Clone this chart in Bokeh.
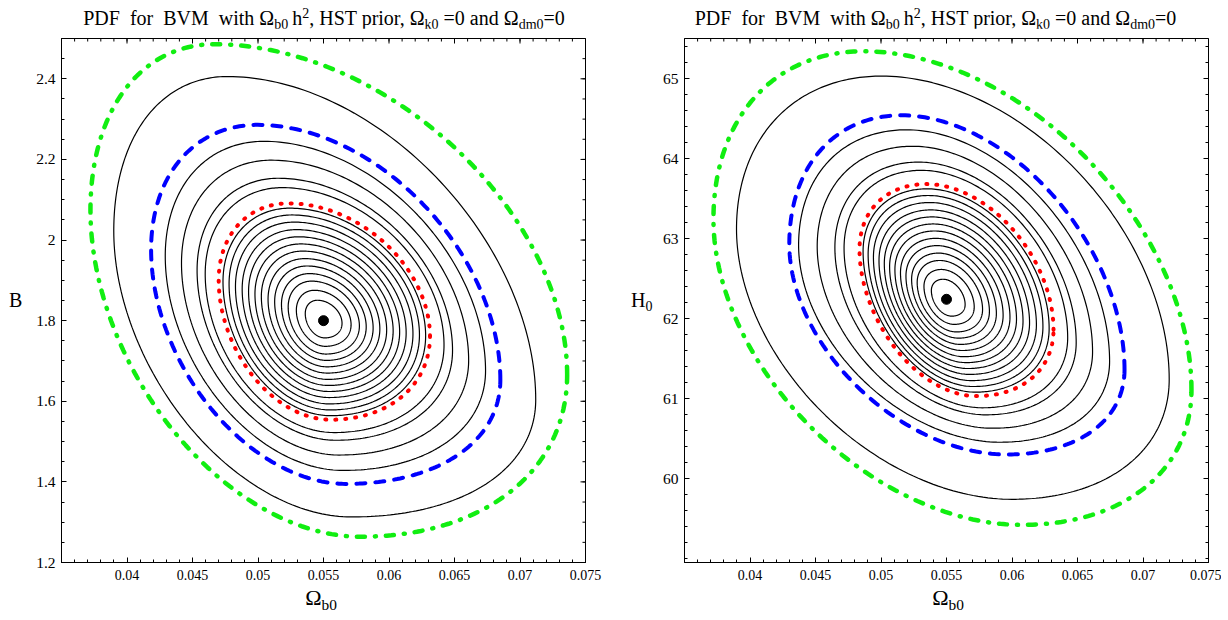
import numpy as np
from bokeh.plotting import figure
from bokeh.layouts import row, column
from bokeh.models import Div, LinearAxis, FixedTicker, CustomJSTickFormatter, Range1d
from bokeh.embed import file_html
from bokeh.resources import INLINE

# ---------------- data ----------------
X_RANGE = (0.035, 0.075)
LEFT_Y_RANGE = (1.2, 2.5)
RIGHT_Y_RANGE = (58.95, 65.5)
X_TICKS = [0.04, 0.045, 0.05, 0.055, 0.06, 0.065, 0.07, 0.075]
LEFT_Y_TICKS = [1.2, 1.4, 1.6, 1.8, 2.0, 2.2, 2.4]
RIGHT_Y_TICKS = [60, 61, 62, 63, 64, 65]

LEFT_BEST = (0.0550, 1.800)
RIGHT_BEST = (0.0550, 62.24)

# contour extreme points: (x_left, y_left, x_right, y_right, x_top, y_top, x_bottom, y_bottom)
LEFT_RED = (0.04700, 1.901, 0.06313, 1.761, 0.05232, 2.091, 0.05556, 1.5542)
LEFT_BLACK_OUT = [
    (0.04597, 1.916, 0.06420, 1.7394, 0.05185, 2.1300, 0.05579, 1.5224),
    (0.04535, 1.925, 0.06485, 1.7264, 0.05157, 2.1533, 0.05592, 1.5033),
    (0.04416, 1.9423, 0.06608, 1.7016, 0.05103, 2.1981, 0.05619, 1.4666),
    (0.04292, 1.9603, 0.06737, 1.6757, 0.05046, 2.2449, 0.05646, 1.4284),
    (0.03899, 2.0227, 0.0712, 1.604, 0.04768, 2.4057, 0.0571, 1.313),
]
LEFT_BLUE = (0.04184, 1.976, 0.0685, 1.653, 0.04997, 2.2858, 0.0567, 1.395)
LEFT_GREEN = (0.03721, 2.074, 0.0736, 1.666, 0.04666, 2.4858, 0.0578, 1.264)

RIGHT_RED = (0.04836, 62.865, 0.06317, 61.86, 0.05347, 63.68, 0.05729, 61.03)
RIGHT_BLACK_OUT = [
    (0.04718, 62.878, 0.06425, 61.76, 0.05309, 63.852, 0.05775, 60.884),
    (0.04648, 62.886, 0.06490, 61.70, 0.05286, 63.955, 0.05802, 60.796),
    (0.04513, 62.901, 0.06615, 61.585, 0.05242, 64.153, 0.05855, 60.6285),
    (0.04371, 62.916, 0.06745, 61.465, 0.05196, 64.359, 0.05910, 60.4533),
    (0.03897, 63.12, 0.07200, 61.24, 0.05004, 65.03, 0.0600, 59.74),
]
RIGHT_BLUE = (0.04300, 62.93, 0.06859, 61.36, 0.05156, 64.54, 0.05958, 60.30)
RIGHT_GREEN = (0.03721, 63.24, 0.0737, 61.11, 0.04866, 65.34, 0.06073, 59.42)

# sizes of the black rings inside the red contour (fraction of the red contour, read on the picture)
LEFT_RING_SCALE = [0.174, 0.259, 0.337, 0.401, 0.466, 0.529, 0.593, 0.654, 0.715, 0.776, 0.840, 0.901, 0.959]
RIGHT_RING_SCALE = [0.174, 0.259, 0.337, 0.401, 0.466, 0.529, 0.593, 0.654, 0.715, 0.776, 0.840, 0.901, 0.959]

TITLE_HTML = ("PDF&nbsp; for&nbsp; BVM&nbsp; with &Omega;<sub>b0</sub>&thinsp;h<sup>2</sup>, HST prior, "
              "&Omega;<sub>k0</sub> =0 and &Omega;<sub>dm0</sub>=0")
XLABEL_HTML = "&Omega;<sub>b0</sub>"
LEFT_YLABEL_HTML = "B"
RIGHT_YLABEL_HTML = "H<sub>0</sub>"

FONT = "Liberation Serif"


def egg(c8, n=80):
    xl, yl, xr, yr, xt, yt, xb, yb = c8
    c = 0.5 * ((xt - xb) / (xr - xl) + (yr - yl) / (yt - yb))
    phi = np.arccos(c)
    xs, ys = [], []
    A = (xr - xt) / (1 - c); B = (yt - yr) / (1 - c); cx = xr - A; cy = yt - B
    t = np.linspace(0, phi, n); xs.append(cx + A * np.cos(t)); ys.append(cy + B * np.cos(t - phi))
    A = (xt - xl) / (1 + c); B = (yt - yl) / (1 + c); cx = xl + A; cy = yt - B
    t = np.linspace(phi, np.pi, n)[1:]; xs.append(cx + A * np.cos(t)); ys.append(cy + B * np.cos(t - phi))
    A = (xb - xl) / (1 - c); B = (yl - yb) / (1 - c); cx = xl + A; cy = yb + B
    t = np.linspace(np.pi, np.pi + phi, n)[1:]; xs.append(cx + A * np.cos(t)); ys.append(cy + B * np.cos(t - phi))
    A = (xr - xb) / (1 + c); B = (yr - yb) / (1 + c); cx = xr - A; cy = yb + B
    t = np.linspace(np.pi + phi, 2 * np.pi, n)[1:]; xs.append(cx + A * np.cos(t)); ys.append(cy + B * np.cos(t - phi))
    return np.concatenate(xs), np.concatenate(ys)


def scaled(best, red, s):
    bx, by = best
    return tuple((bx if i % 2 == 0 else by) + s * (v - (bx if i % 2 == 0 else by)) for i, v in enumerate(red))


def style_axis(ax, size, standoff):
    ax.major_tick_in = 5; ax.major_tick_out = 0; ax.minor_tick_in = 3; ax.minor_tick_out = 0
    ax.axis_line_color = "black"; ax.major_tick_line_color = "black"; ax.minor_tick_line_color = "black"
    ax.major_label_text_font = FONT
    ax.major_label_text_color = "black"
    ax.major_label_text_font_size = size
    ax.major_label_standoff = standoff


def make_panel(yr, yticks, yminor, best, ring_scale, red, black_out, blue, green, bl, br):
    p = figure(frame_width=524, frame_height=524, x_range=Range1d(*X_RANGE), y_range=Range1d(*yr),
               output_backend="svg", toolbar_location=None, min_border_left=bl, min_border_right=br,
               min_border_top=10, min_border_bottom=25, x_axis_location=None, y_axis_location=None)
    p.grid.visible = False
    p.outline_line_color = "black"
    p.outline_line_width = 1
    p.background_fill_color = "white"
    p.border_fill_color = "white"
    fmt = CustomJSTickFormatter(code="return String(Math.round(tick*10000)/10000);")
    xminor = list(np.round(np.arange(0.035, 0.0751, 0.001), 4))
    ax = LinearAxis(ticker=FixedTicker(ticks=X_TICKS, minor_ticks=xminor), formatter=fmt)
    style_axis(ax, "14px", 7)
    p.add_layout(ax, "below")
    ay = LinearAxis(ticker=FixedTicker(ticks=yticks, minor_ticks=yminor), formatter=fmt)
    style_axis(ay, "15.5px", 6)
    p.add_layout(ay, "left")
    # mirrored ticks on the top and right frame edges
    y_top, x_right = yr[1], X_RANGE[1]
    p.scatter(X_TICKS, [y_top] * len(X_TICKS), marker="dash", size=10, angle=np.pi / 2,
              line_color="black", line_width=1)
    p.scatter(xminor, [y_top] * len(xminor), marker="dash", size=6, angle=np.pi / 2,
              line_color="black", line_width=1)
    p.scatter([x_right] * len(yticks), yticks, marker="dash", size=10, line_color="black", line_width=1)
    p.scatter([x_right] * len(yminor), yminor, marker="dash", size=6, line_color="black", line_width=1)

    for s in ring_scale:
        xs, ys = egg(scaled(best, red, s))
        p.line(xs, ys, line_color="black", line_width=1.2)
    for c8 in black_out:
        xs, ys = egg(c8)
        p.line(xs, ys, line_color="black", line_width=1.2)
    xs, ys = egg(red)
    p.line(xs, ys, line_color="#ff0000", line_width=4, line_dash="1 9", line_cap="round")
    xs, ys = egg(blue)
    p.line(xs, ys, line_color="#0000ff", line_width=4, line_dash="9 10", line_cap="round")
    xs, ys = egg(green)
    p.line(xs, ys, line_color="#11ee11", line_width=4.5, line_dash="8 10 1 10", line_cap="round")
    p.scatter([best[0]], [best[1]], size=10, color="black")
    return p


SUBSTYLE = "font-size:70%;vertical-align:-0.32em;line-height:0"
SUPSTYLE = "font-size:70%;vertical-align:0.5em;line-height:0"


def rich(html):
    return html.replace("<sub>", f'<sub style="{SUBSTYLE}">').replace("<sup>", f'<sup style="{SUPSTYLE}">')


def text_div(html, width, height, fs, pad_left, top=0, align="center"):
    inner = (f'<div style="font-family:\'{FONT}\';font-size:{fs}px;line-height:{fs}px;color:black;'
             f'white-space:nowrap;text-align:{align};width:{width}px;box-sizing:border-box;'
             f'padding-left:{pad_left}px;position:relative;top:{top}px">'
             f'{rich(html)}</div>')
    return Div(text=inner, width=width, height=height, margin=0)


left_minor = list(np.round(np.arange(1.2, 2.501, 0.05), 3))
right_minor = list(np.round(np.arange(59.0, 65.51, 0.2), 2))

p1 = make_panel(LEFT_Y_RANGE, LEFT_Y_TICKS, left_minor, LEFT_BEST, LEFT_RING_SCALE, LEFT_RED,
                LEFT_BLACK_OUT, LEFT_BLUE, LEFT_GREEN, 26, 30)
p2 = make_panel(RIGHT_Y_RANGE, RIGHT_Y_TICKS, right_minor, RIGHT_BEST, RIGHT_RING_SCALE, RIGHT_RED,
                RIGHT_BLACK_OUT, RIGHT_BLUE, RIGHT_GREEN, 25, 13)

col_l = column(
    text_div(TITLE_HTML, 606, 21, 20, 28, top=1),
    row(text_div(LEFT_YLABEL_HTML, 26, 559, 20, 2, top=262, align="left"), p1),
    text_div(XLABEL_HTML, 606, 24, 22, 22, top=0),
)
col_r = column(
    text_div(TITLE_HTML, 606, 21, 20, 35, top=1),
    row(text_div(RIGHT_YLABEL_HTML, 44, 559, 20, 16, top=262, align="left"), p2),
    text_div(XLABEL_HTML, 606, 24, 22, 60, top=0),
)
layout = row(col_l, col_r, margin=(7, 0, 0, 7))
open("out.html", "w").write(file_html(layout, INLINE))
